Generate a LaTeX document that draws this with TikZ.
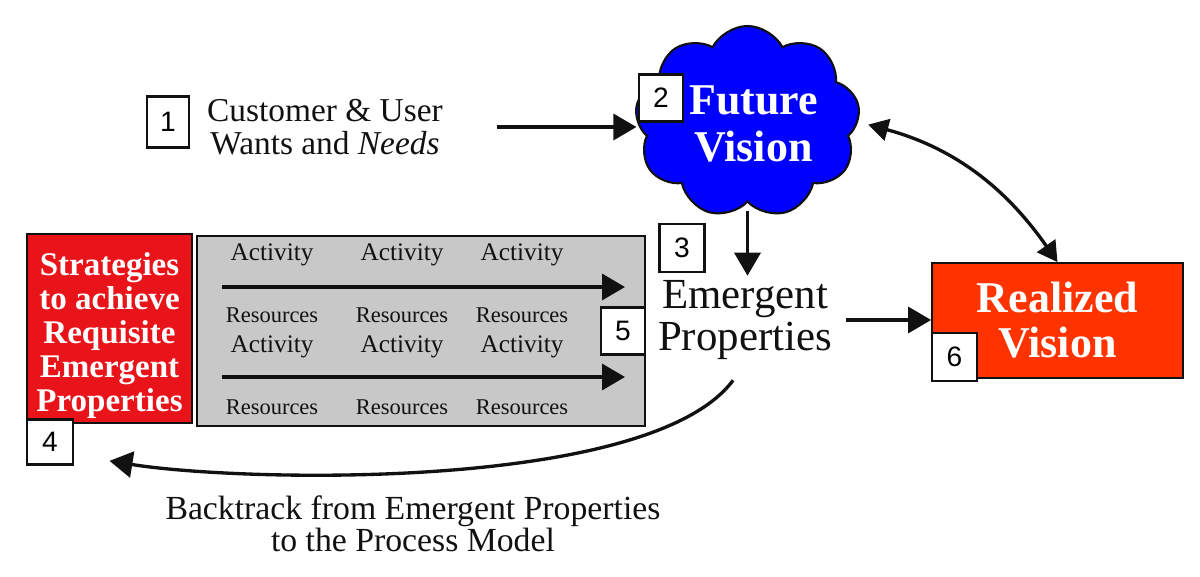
\documentclass[tikz,border=0pt]{standalone}
\usepackage{fontspec}
\setmainfont{Liberation Serif}
\newfontfamily\numfont{Liberation Sans}
\usetikzlibrary{arrows.meta,positioning,shapes.symbols}
\definecolor{visBlue}{HTML}{0000FF}
\definecolor{visRed}{HTML}{E8141A}
\definecolor{visOrange}{HTML}{FF3300}
\definecolor{visGray}{HTML}{C8C8C8}
\definecolor{visInk}{HTML}{111111}

\begin{document}
\begin{tikzpicture}[font=\scriptsize,
    numbox/.style={draw=visInk,fill=white,line width=0.6pt,minimum width=4.4mm,
                   minimum height=4.7mm,inner sep=0pt,font=\numfont\fontsize{8}{9}\selectfont},
    redbox/.style={draw=visInk,fill=visRed,line width=0.5pt,
                   minimum width=1.65cm,minimum height=1.89cm,inner sep=0pt},
    redlbl/.style={text=white,align=center,inner sep=0pt,
                   font=\bfseries\fontsize{9.4}{9.7}\selectfont},
    procbox/.style={draw=visInk,fill=visGray,line width=0.6pt,
                    minimum width=4.48cm,minimum height=1.90cm,inner sep=0pt},
    goal/.style={draw=visInk,fill=visOrange,line width=0.5pt,text=white,align=center,
                 minimum width=2.51cm,minimum height=1.15cm,inner sep=0pt,
                 font=\bfseries\fontsize{12.5}{12.8}\selectfont},
    vision/.style={cloud,cloud puffs=9,cloud puff arc=125,aspect=1.2,draw=visInk,
                   fill=visBlue,line width=0.6pt,
                   minimum width=2.25cm,minimum height=1.92cm,inner sep=0pt},
    vislbl/.style={text=white,align=center,inner sep=0pt,
                   font=\bfseries\fontsize{12.5}{13.4}\selectfont},
    txt/.style={align=center,inner sep=1pt,text=visInk},
    act/.style={inner sep=0pt,text=visInk,font=\fontsize{7.2}{8}\selectfont},
    res/.style={inner sep=0pt,text=visInk,font=\fontsize{6.4}{7}\selectfont},
    arr/.style={-{Triangle[length=2.3mm,width=2.6mm]},visInk,line width=0.95pt},
    darr/.style={{Triangle[length=2mm,width=2.2mm]}-{Triangle[length=2mm,width=2.2mm]},
                 visInk,line width=0.95pt}]

  \useasboundingbox (0,0) rectangle (12,5.77);

  \node[vision,label={[vislbl,xshift=0.6mm,yshift=-0.2mm]center:Future\\Vision}] (vis) at (7.475,4.55) {};
  \node[numbox] (n2) at (6.61,4.79) {2};

  \node[numbox,minimum height=5.1mm,minimum width=4.2mm] (n1) at (1.68,4.55) {1};
  \node[txt,font=\fontsize{9.5}{9.2}\selectfont] (cust) at (3.25,4.50)
    {Customer \& User\\Wants and \textit{Needs}};

  \node[redbox,label={[redlbl,yshift=-0.7mm]center:Strategies\\to achieve\\Requisite\\Emergent\\Properties}]
    (strat) at (1.095,2.485) {};
  \node[numbox,minimum height=4.5mm,minimum width=4.6mm] (n4) at (0.50,1.35) {4};

  \node[procbox] (proc) at (4.21,2.46) {};
  \node[act] (a11) at (2.72,3.22) {Activity};
  \node[act] (a12) at (4.02,3.22) {Activity};
  \node[act] (a13) at (5.22,3.22) {Activity};
  \node[res] (r11) at (2.72,2.62) {Resources};
  \node[res] (r12) at (4.02,2.62) {Resources};
  \node[res] (r13) at (5.22,2.62) {Resources};
  \node[act] (a21) at (2.72,2.30) {Activity};
  \node[act] (a22) at (4.02,2.30) {Activity};
  \node[act] (a23) at (5.22,2.30) {Activity};
  \node[res] (r21) at (2.72,1.70) {Resources};
  \node[res] (r22) at (4.02,1.70) {Resources};
  \node[res] (r23) at (5.22,1.70) {Resources};
  \coordinate (flow1s) at (2.22,2.90);
  \coordinate (flow1e) at (6.25,2.90);
  \coordinate (flow2s) at (2.22,2.00);
  \coordinate (flow2e) at (6.25,2.00);
  \node[numbox] (n5) at (6.23,2.46) {5};

  \node[txt,font=\fontsize{12.2}{12.2}\selectfont] (emer) at (7.45,2.57)
    {Emergent\\Properties};
  \node[numbox,minimum height=4.8mm,minimum width=4.5mm] (n3) at (6.82,3.29) {3};

  \node[goal] (real) at (10.575,2.565) {Realized\\Vision};
  \node[numbox,minimum height=4.8mm,minimum width=4.5mm] (n6) at (9.545,2.20) {6};

  \node[txt,font=\fontsize{9.6}{9.2}\selectfont] (back) at (4.13,0.53)
    {Backtrack from Emergent Properties\\to the Process Model};
  \coordinate (ret) at ([yshift=-3.7mm]strat.south);

  \draw[arr,shorten <=5mm] (cust.east) -- (cust.east -| vis.west);
  \draw[arr,shorten <=0.8mm] (vis.south) -- (vis.south |- emer.north);
  \draw[arr] (flow1s) -- (flow1e);
  \draw[arr] (flow2s) -- (flow2e);
  \draw[arr,shorten <=1mm] (emer.east) -- (emer.east -| real.west);
  \draw[darr,shorten <=1mm] (vis.east) to[bend left=20] (real.north);
  \draw[arr,shorten <=2mm] (emer.south) .. controls (6.5,0.85) and (2.4,0.95) .. (ret);
\end{tikzpicture}
\end{document}
